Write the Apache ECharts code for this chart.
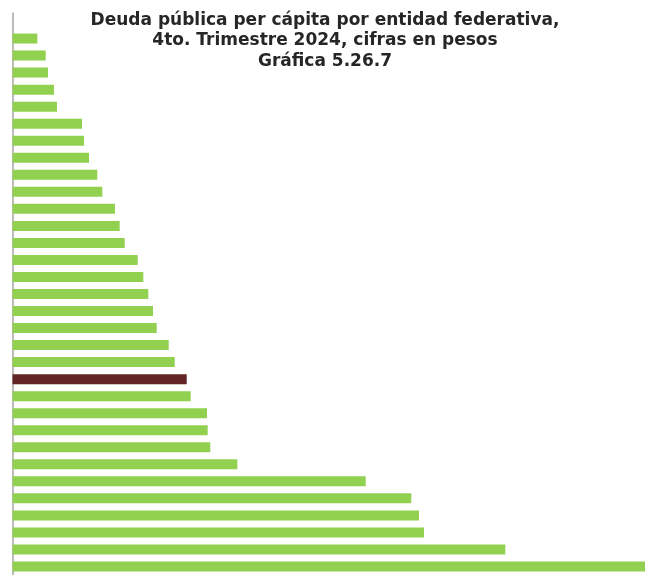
<!DOCTYPE html>
<html>
<head>
<meta charset="utf-8">
<script src="https://cdn.jsdelivr.net/npm/echarts@6/dist/echarts.min.js"></script>
<style>
html,body{margin:0;padding:0;background:#fff;}
#chart{width:645px;height:575px;}
</style>
</head>
<body>
<div id="chart"></div>
<script>
const entidades = ["Tlaxcala","Querétaro","Campeche","Puebla","Guanajuato","Yucatán","Aguascalientes","Hidalgo","Sinaloa","Tabasco","Baja California Sur","San Luis Potosí","Morelos","Oaxaca","Jalisco","Durango","Guerrero","Colima","Nayarit","Michoacán","Zacatecas","Nacional","Estado de México","Tamaulipas","Baja California","Chiapas","Veracruz","Sonora","Coahuila","Ciudad de México","Quintana Roo","Chihuahua","Nuevo León"];
const deudaPerCapita = [0,707,946,1012,1183,1268,1981,2038,2180,2417,2559,2921,3055,3198,3568,3728,3870,4004,4110,4452,4623,4965,5079,5543,5563,5637,6407,10066,11366,11585,11728,14045,18026];
const destacado = "Nacional";
const titulo = "Deuda pública per cápita por entidad federativa,\n4to. Trimestre 2024, cifras en pesos\nGráfica 5.26.7";

const chart = echarts.init(document.getElementById('chart'));
chart.setOption({
  animation: false,
  backgroundColor: '#ffffff',
  title: {
    text: titulo,
    left: 320,
    top: 5,
    textAlign: 'center',
    textStyle: {
      fontFamily: 'DejaVu Sans',
      fontWeight: 'bold',
      fontSize: 17,
      lineHeight: 20.5,
      color: '#262626'
    }
  },
  grid: { left: 12.5, right: 0, top: 13, bottom: -1.5, containLabel: false },
  xAxis: {
    type: 'value',
    min: 0,
    max: 18026,
    show: false
  },
  yAxis: {
    type: 'category',
    data: entidades,
    inverse: true,
    axisLine: { show: true, lineStyle: { color: '#a6a6a6', width: 1.5 } },
    axisTick: { show: false },
    axisLabel: { show: false }
  },
  series: [{
    type: 'bar',
    barWidth: 10,
    data: deudaPerCapita.map((v, i) => ({
      value: v,
      itemStyle: { color: entidades[i] === destacado ? '#622424' : '#92d050' }
    }))
  }]
});
</script>
</body>
</html>
